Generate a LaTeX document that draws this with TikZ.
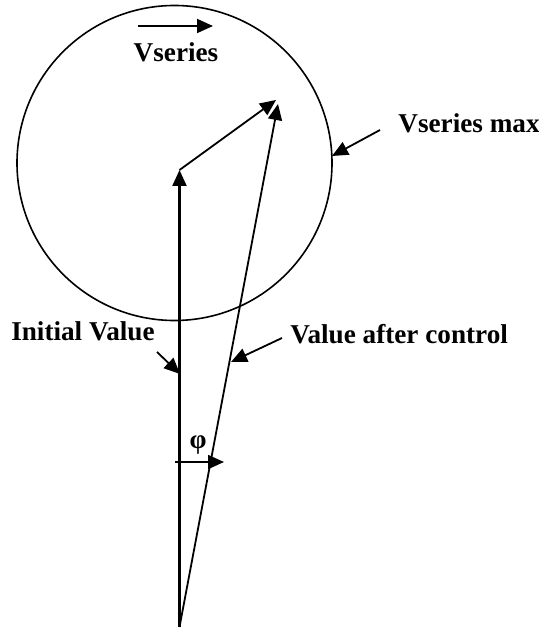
\documentclass[tikz,border=0pt]{standalone}
\usepackage{fontspec}
\setmainfont{Liberation Serif}
\usetikzlibrary{arrows.meta}
\tikzset{
  vec/.style={line width=0.9pt, -{Triangle[length=8pt,width=7pt]}},
  lbl/.style={font=\fontsize{13.6}{16}\selectfont\bfseries, inner sep=0pt},
}
\begin{document}
\begin{tikzpicture}[x=0.5pt,y=-0.5pt]
    \useasboundingbox (0,0) rectangle (539,630);

    % limit of the series voltage
    \draw[line width=0.8pt] (174.5,163) circle (157.5);

    % phasors
    \coordinate (O) at (179.5,627);
    \coordinate (C) at (179.5,170);
    \coordinate (T) at (278,104);
    \coordinate (Tv) at (276,100);
    \draw[vec, line width=1.1pt] (O) -- (C);
    \draw[vec] (O) -- (T);
    \draw[vec] (C) -- (Tv);

    % Vseries
    \node[lbl, anchor=base] (vs) at (176,62) {Vseries};
    \coordinate (vsA) at (138,26);
    \coordinate (vsB) at (213,26);
    \draw[vec] (vsA) -- (vsB);

    % Vseries max
    \node[lbl, anchor=base west] (vmax) at (398,133) {Vseries max};
    \coordinate (vmaxA) at (380,130);
    \coordinate (vmaxB) at (332,156);
    \draw[vec] (vmaxA) -- (vmaxB);

    % initial value
    \node[lbl, anchor=base east] (init) at (155,340) {Initial Value};
    \coordinate (initA) at (157,352);
    \coordinate (initB) at (180,374);
    \draw[vec] (initA) -- (initB);

    % value after control
    \node[lbl, anchor=base west] (after) at (290,343) {Value after control};
    \coordinate (afterA) at (282,338);
    \coordinate (afterB) at (231,362);
    \draw[vec] (afterA) -- (afterB);

    % angle
    \node[lbl] (phi) at (198,445) {φ};
    \coordinate (phiA) at (175,462);
    \coordinate (phiB) at (224,462);
    \draw[vec] (phiA) -- (phiB);
\end{tikzpicture}
\end{document}
